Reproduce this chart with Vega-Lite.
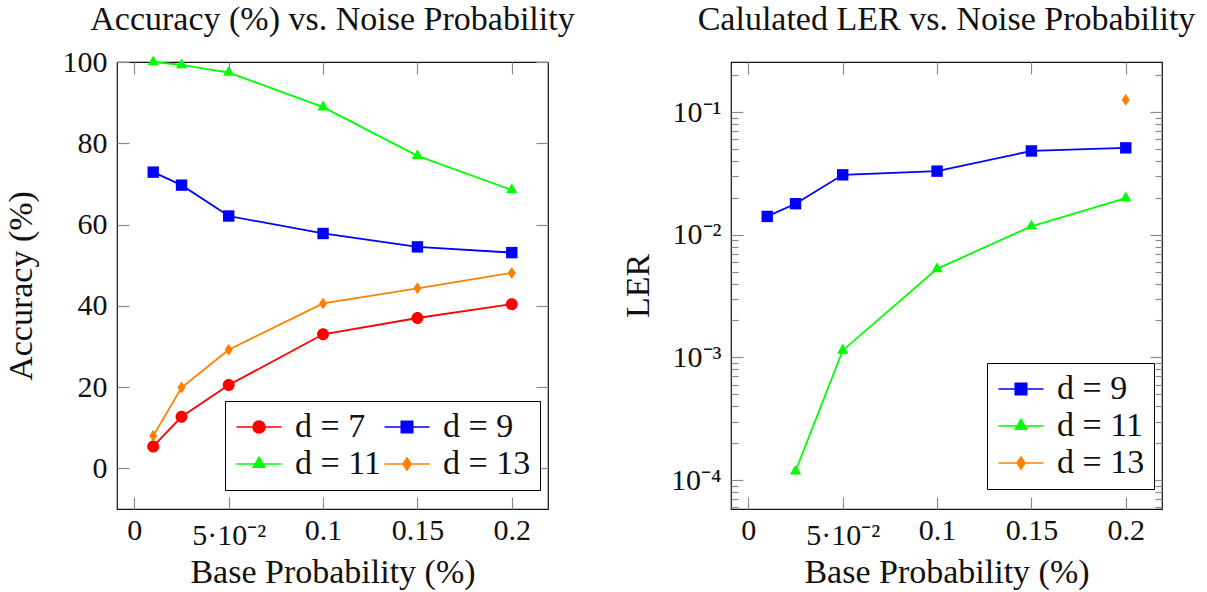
{
  "$schema": "https://vega.github.io/schema/vega-lite/v6.json",
  "background": "white",
  "padding": {"left": 3, "top": 2, "right": 10, "bottom": 2},
  "bounds": "flush",
  "spacing": 183,
  "resolve": {"scale": {"fill": "independent", "stroke": "independent", "shape": "independent"}, "legend": {"fill": "independent", "stroke": "independent", "shape": "independent"}},
  "config": {
    "font": "Liberation Serif",
    "view": {"stroke": "#111", "strokeWidth": 1.2},
    "axis": {"grid": false, "domain": false, "labelFont": "Liberation Serif", "labelFontSize": 30, "labelColor": "#111", "titleFont": "Liberation Serif", "titleFontSize": 34, "titleFontWeight": "normal", "titleColor": "#111", "tickColor": "#8a8a8a", "tickWidth": 1.2},
    "title": {"font": "Liberation Serif", "fontSize": 34, "fontWeight": "normal", "color": "#111"},
    "legend": {"strokeColor": "black", "fillColor": "white", "padding": 9, "rowPadding": 3, "columnPadding": 0, "labelOffset": 27, "labelFontSize": 34, "labelFont": "Liberation Serif", "labelColor": "#111", "symbolSize": 676, "symbolStrokeWidth": 1.6, "symbolOpacity": 1, "cornerRadius": 0}
  },
  "datasets": {
    "acc": [
      {"p": 0.01, "acc": 5.4, "d": 7}, {"p": 0.025, "acc": 12.7, "d": 7}, {"p": 0.05, "acc": 20.5, "d": 7}, {"p": 0.1, "acc": 33.0, "d": 7}, {"p": 0.15, "acc": 37.0, "d": 7}, {"p": 0.2, "acc": 40.4, "d": 7},
      {"p": 0.01, "acc": 72.9, "d": 9}, {"p": 0.025, "acc": 69.7, "d": 9}, {"p": 0.05, "acc": 62.1, "d": 9}, {"p": 0.1, "acc": 57.8, "d": 9}, {"p": 0.15, "acc": 54.5, "d": 9}, {"p": 0.2, "acc": 53.1, "d": 9},
      {"p": 0.01, "acc": 100.0, "d": 11}, {"p": 0.025, "acc": 99.3, "d": 11}, {"p": 0.05, "acc": 97.4, "d": 11}, {"p": 0.1, "acc": 88.9, "d": 11}, {"p": 0.15, "acc": 76.9, "d": 11}, {"p": 0.2, "acc": 68.5, "d": 11},
      {"p": 0.01, "acc": 8.0, "d": 13}, {"p": 0.025, "acc": 19.9, "d": 13}, {"p": 0.05, "acc": 29.2, "d": 13}, {"p": 0.1, "acc": 40.6, "d": 13}, {"p": 0.15, "acc": 44.3, "d": 13}, {"p": 0.2, "acc": 48.1, "d": 13}
    ],
    "ler": [
      {"p": 0.01, "ler": 0.0141, "d": 9}, {"p": 0.025, "ler": 0.0179, "d": 9}, {"p": 0.05, "ler": 0.0308, "d": 9}, {"p": 0.1, "ler": 0.0330, "d": 9}, {"p": 0.15, "ler": 0.0482, "d": 9}, {"p": 0.2, "ler": 0.0511, "d": 9},
      {"p": 0.025, "ler": 0.000118, "d": 11}, {"p": 0.05, "ler": 0.00114, "d": 11}, {"p": 0.1, "ler": 0.00527, "d": 11}, {"p": 0.15, "ler": 0.01172, "d": 11}, {"p": 0.2, "ler": 0.0199, "d": 11},
      {"p": 0.2, "ler": 0.126, "d": 13}
    ]
  },
  "hconcat": [
    {
      "width": 431,
      "height": 447,
      "title": {"text": "Accuracy (%) vs. Noise Probability", "frame": "group", "anchor": "middle", "baseline": "alphabetic", "offset": -17},
      "data": {"name": "acc"},
      "layer": [
        {
          "mark": {"type": "line", "strokeWidth": 1.8},
          "encoding": {
            "x": {"field": "p", "type": "quantitative", "scale": {"domain": [-0.0092, 0.2192], "nice": false, "zero": false},
                  "axis": {"orient": "bottom", "values": [0, 0.05, 0.1, 0.15, 0.2], "labelExpr": "datum.value == 0.05 ? '5·10⁻²' : toString(datum.value)", "tickSize": -12, "labelBaseline": "alphabetic", "labelPadding": {"condition": {"test": "datum.value == 0.05", "value": 47}, "value": 42}, "labelFlush": false, "labelOverlap": false, "title": "Base Probability (%)", "titlePadding": 5}},
            "y": {"field": "acc", "type": "quantitative", "scale": {"domain": [-10, 100], "nice": false, "zero": false},
                  "axis": {"orient": "left", "values": [0, 20, 40, 60, 80, 100], "tickSize": -12, "labelPadding": 22, "labelFlush": false, "labelOverlap": false, "title": "Accuracy (%)", "titlePadding": 24}},
            "stroke": {"field": "d", "type": "nominal", "scale": {"domain": [7, 9, 11, 13], "range": ["#ff0000", "#0000ff", "#00ff00", "#ff8000"]}}
          }
        },
        {
          "mark": {"type": "point", "filled": true, "opacity": 0, "size": 144},
          "encoding": {
            "x": {"field": "p", "type": "quantitative", "axis": {"orient": "top", "values": [0, 0.05, 0.1, 0.15, 0.2], "labels": false, "title": null, "tickSize": -12}},
            "y": {"field": "acc", "type": "quantitative", "axis": {"orient": "right", "values": [0, 20, 40, 60, 80, 100], "labels": false, "title": null, "tickSize": -12}},
            "fill": {"field": "d", "type": "nominal", "scale": {"domain": [7, 9, 11, 13], "range": ["#ff0000", "#0000ff", "#00ff00", "#ff8000"]},
                     "legend": {"orient": "none", "legendX": 108, "legendY": 339, "columns": 2, "direction": "horizontal", "title": null, "labelExpr": "'d = ' + datum.label"}},
            "stroke": {"field": "d", "type": "nominal",
                     "legend": {"orient": "none", "legendX": 108, "legendY": 339, "columns": 2, "direction": "horizontal", "title": null, "labelExpr": "'d = ' + datum.label"}},
            "shape": {"field": "d", "type": "nominal",
                      "scale": {"domain": [7, 9, 11, 13], "range": [
                        "M-1.115,0H2.346M0.155,0A0.46,0.46,0,1,0,1.075,0A0.46,0.46,0,1,0,0.155,0Z",
                        "M-1.115,0H2.346M0.175,-0.44H1.055V0.44H0.175Z",
                        "M-1.115,0H2.346M0.615,-0.51L1.053,0.254L0.177,0.254Z",
                        "M-1.115,0H2.346M0.615,-0.46L0.925,0L0.615,0.46L0.305,0Z"]},
                      "legend": {"orient": "none", "legendX": 108, "legendY": 339, "columns": 2, "direction": "horizontal", "title": null, "labelExpr": "'d = ' + datum.label"}}
          }
        },
        {
          "transform": [{"filter": "datum.d == 7"}],
          "mark": {"type": "point", "filled": true, "opacity": 1, "size": 144, "shape": "M-1,0A1,1,0,1,0,1,0A1,1,0,1,0,-1,0Z"},
          "encoding": {
            "x": {"field": "p", "type": "quantitative", "axis": null},
            "y": {"field": "acc", "type": "quantitative", "axis": null},
            "fill": {"field": "d", "type": "nominal"}
          }
        },
        {
          "transform": [{"filter": "datum.d == 9"}],
          "mark": {"type": "point", "filled": true, "opacity": 1, "size": 144, "shape": "M-0.95,-0.95H0.95V0.95H-0.95Z"},
          "encoding": {
            "x": {"field": "p", "type": "quantitative", "axis": null},
            "y": {"field": "acc", "type": "quantitative", "axis": null},
            "fill": {"field": "d", "type": "nominal"}
          }
        },
        {
          "transform": [{"filter": "datum.d == 11"}],
          "mark": {"type": "point", "filled": true, "opacity": 1, "size": 144, "shape": "M0,-1.1L0.95,0.55L-0.95,0.55Z"},
          "encoding": {
            "x": {"field": "p", "type": "quantitative", "axis": null},
            "y": {"field": "acc", "type": "quantitative", "axis": null},
            "fill": {"field": "d", "type": "nominal"}
          }
        },
        {
          "transform": [{"filter": "datum.d == 13"}],
          "mark": {"type": "point", "filled": true, "opacity": 1, "size": 144, "shape": "M0,-1L0.67,0L0,1L-0.67,0Z"},
          "encoding": {
            "x": {"field": "p", "type": "quantitative", "axis": null},
            "y": {"field": "acc", "type": "quantitative", "axis": null},
            "fill": {"field": "d", "type": "nominal"}
          }
        }
      ],
      "resolve": {"axis": {"x": "independent", "y": "independent"}}
    },
    {
      "width": 431,
      "height": 447,
      "title": {"text": "Calulated LER vs. Noise Probability", "frame": "group", "anchor": "middle", "baseline": "alphabetic", "offset": -4},
      "data": {"name": "ler"},
      "layer": [
        {
          "mark": {"type": "line", "strokeWidth": 1.8},
          "encoding": {
            "x": {"field": "p", "type": "quantitative", "scale": {"domain": [-0.0092, 0.2192], "nice": false, "zero": false},
                  "axis": {"orient": "bottom", "values": [0, 0.05, 0.1, 0.15, 0.2], "labelExpr": "datum.value == 0.05 ? '5·10⁻²' : toString(datum.value)", "tickSize": -12, "labelBaseline": "alphabetic", "labelPadding": {"condition": {"test": "datum.value == 0.05", "value": 47}, "value": 42}, "labelFlush": false, "labelOverlap": false, "title": "Base Probability (%)", "titlePadding": 5}},
            "y": {"field": "ler", "type": "quantitative", "scale": {"type": "log", "domain": [0.0000581, 0.256], "nice": false},
                  "axis": {"orient": "left",
                           "values": [0.00006, 0.00007, 0.00008, 0.00009, 0.0001, 0.0002, 0.0003, 0.0004, 0.0005, 0.0006, 0.0007, 0.0008, 0.0009, 0.001, 0.002, 0.003, 0.004, 0.005, 0.006, 0.007, 0.008, 0.009, 0.01, 0.02, 0.03, 0.04, 0.05, 0.06, 0.07, 0.08, 0.09, 0.1, 0.2],
                           "labelExpr": "datum.value == 0.1 ? '10⁻¹' : datum.value == 0.01 ? '10⁻²' : datum.value == 0.001 ? '10⁻³' : datum.value == 0.0001 ? '10⁻⁴' : ''",
                           "tickSize": {"condition": {"test": "datum.value == 0.1 || datum.value == 0.01 || datum.value == 0.001 || datum.value == 0.0001", "value": -12}, "value": -7},
                           "labelPadding": 22, "labelFlush": false, "labelOverlap": false, "title": "LER", "titlePadding": 15}},
            "stroke": {"field": "d", "type": "nominal", "scale": {"domain": [9, 11, 13], "range": ["#0000ff", "#00ff00", "#ff8000"]}}
          }
        },
        {
          "mark": {"type": "point", "filled": true, "opacity": 0, "size": 144},
          "encoding": {
            "x": {"field": "p", "type": "quantitative", "axis": {"orient": "top", "values": [0, 0.05, 0.1, 0.15, 0.2], "labels": false, "title": null, "tickSize": -12}},
            "y": {"field": "ler", "type": "quantitative",
                  "axis": {"orient": "right", "labels": false, "title": null,
                           "values": [0.00006, 0.00007, 0.00008, 0.00009, 0.0001, 0.0002, 0.0003, 0.0004, 0.0005, 0.0006, 0.0007, 0.0008, 0.0009, 0.001, 0.002, 0.003, 0.004, 0.005, 0.006, 0.007, 0.008, 0.009, 0.01, 0.02, 0.03, 0.04, 0.05, 0.06, 0.07, 0.08, 0.09, 0.1, 0.2],
                           "tickSize": {"condition": {"test": "datum.value == 0.1 || datum.value == 0.01 || datum.value == 0.001 || datum.value == 0.0001", "value": -12}, "value": -7}}},
            "fill": {"field": "d", "type": "nominal", "scale": {"domain": [9, 11, 13], "range": ["#0000ff", "#00ff00", "#ff8000"]},
                     "legend": {"orient": "none", "legendX": 256, "legendY": 301, "columns": 1, "title": null, "labelExpr": "'d = ' + datum.label"}},
            "stroke": {"field": "d", "type": "nominal",
                     "legend": {"orient": "none", "legendX": 256, "legendY": 301, "columns": 1, "title": null, "labelExpr": "'d = ' + datum.label"}},
            "shape": {"field": "d", "type": "nominal",
                      "scale": {"domain": [9, 11, 13], "range": [
                        "M-1.115,0H2.346M0.175,-0.44H1.055V0.44H0.175Z",
                        "M-1.115,0H2.346M0.615,-0.51L1.053,0.254L0.177,0.254Z",
                        "M-1.115,0H2.346M0.615,-0.46L0.925,0L0.615,0.46L0.305,0Z"]},
                      "legend": {"orient": "none", "legendX": 256, "legendY": 301, "columns": 1, "title": null, "labelExpr": "'d = ' + datum.label"}}
          }
        },
        {
          "transform": [{"filter": "datum.d == 9"}],
          "mark": {"type": "point", "filled": true, "opacity": 1, "size": 144, "shape": "M-0.95,-0.95H0.95V0.95H-0.95Z"},
          "encoding": {
            "x": {"field": "p", "type": "quantitative", "axis": null},
            "y": {"field": "ler", "type": "quantitative", "axis": null},
            "fill": {"field": "d", "type": "nominal"}
          }
        },
        {
          "transform": [{"filter": "datum.d == 11"}],
          "mark": {"type": "point", "filled": true, "opacity": 1, "size": 144, "shape": "M0,-1.1L0.95,0.55L-0.95,0.55Z"},
          "encoding": {
            "x": {"field": "p", "type": "quantitative", "axis": null},
            "y": {"field": "ler", "type": "quantitative", "axis": null},
            "fill": {"field": "d", "type": "nominal"}
          }
        },
        {
          "transform": [{"filter": "datum.d == 13"}],
          "mark": {"type": "point", "filled": true, "opacity": 1, "size": 144, "shape": "M0,-1L0.67,0L0,1L-0.67,0Z"},
          "encoding": {
            "x": {"field": "p", "type": "quantitative", "axis": null},
            "y": {"field": "ler", "type": "quantitative", "axis": null},
            "fill": {"field": "d", "type": "nominal"}
          }
        }
      ],
      "resolve": {"axis": {"x": "independent", "y": "independent"}}
    }
  ]
}
